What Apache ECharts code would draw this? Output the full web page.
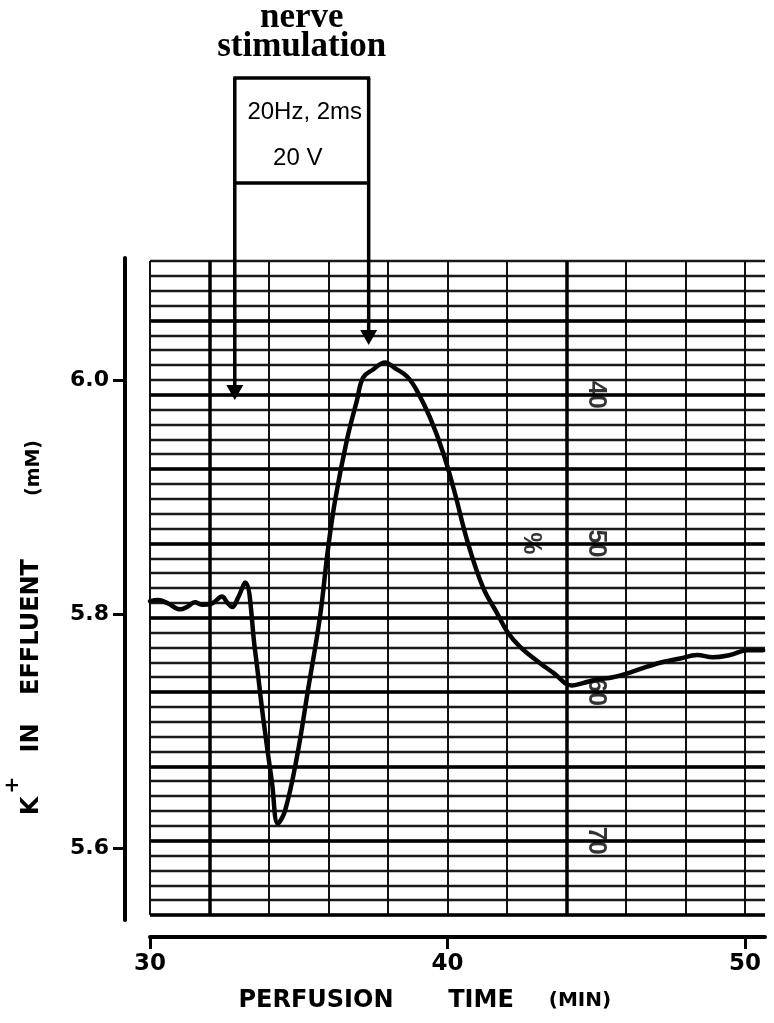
<!DOCTYPE html>
<html>
<head>
<meta charset="utf-8">
<script src="https://cdn.jsdelivr.net/npm/echarts@6/dist/echarts.min.js"></script>
<style>html,body{margin:0;padding:0;background:#fff}#c{width:774px;height:1023px}</style>
</head>
<body>
<div id="c"></div>
<script>
// ---- data ----
const timeMin = [30.00,30.27,30.61,31.01,31.24,31.51,31.75,32.08,32.42,32.59,32.76,32.96,33.20,33.53,33.80,34.10,34.30,34.54,34.94,35.31,35.71,35.98,36.22,36.62,36.96,37.16,37.50,37.90,38.24,38.64,38.97,39.41,39.85,40.25,40.66,41.19,41.66,42.03,42.44,43.11,43.55,44.18,44.55,45.03,45.56,46.13,46.71,47.24,47.82,48.39,48.92,49.50,50.07,50.61];
const kEffluent = [5.811,5.812,5.809,5.804,5.806,5.810,5.808,5.809,5.815,5.810,5.806,5.814,5.827,5.769,5.712,5.656,5.621,5.632,5.678,5.735,5.797,5.855,5.897,5.949,5.983,6.002,6.009,6.015,6.010,6.003,5.991,5.968,5.938,5.903,5.863,5.823,5.801,5.784,5.772,5.758,5.750,5.739,5.741,5.744,5.746,5.750,5.755,5.759,5.762,5.765,5.763,5.765,5.769,5.769];
const xTickValues = [30, 40, 50];
const yTickValues = [5.6, 5.8, 6.0];
const paperScaleLabels = ['40', '50', '60', '70'];
const paperScaleValues = [40, 50, 60, 70];
const paperScaleTime = 45;
const percentSign = ['%'];
const percentTime = 42.8;
const percentValue = 50;
const paperBoldRows = [35, 40, 45, 50, 55, 60, 65, 70, 75];
const paperBoldCols = [32, 44];
const stimTimes = [32.85, 37.35];
const stimArrowTips = [5.983, 6.030];
const stimTitle = ['nerve', 'stimulation'];
const stimParams = ['20Hz, 2ms', '20 V'];
const xTitleParts = ['PERFUSION', 'TIME', '(MIN)'];
const yTitleParts = ['K', '+', 'IN', 'EFFLUENT', '(mM)'];

// ---- axis ranges ----
const T_MIN = 30, T_MAX = 50.672;
const K_MIN = 5.5385, K_MAX = 6.1043;
const P_MIN = 31, P_MAX = 75;

const chart = echarts.init(document.getElementById('c'), null, {renderer: 'canvas'});

const option = {
  animation: false,
  backgroundColor: '#fff',
  grid: [
    {left: 150, right: 9, top: 261, bottom: 108, outerBoundsMode: 'none', containLabel: false},
    {left: 150, right: 9, top: 258, bottom: 103, outerBoundsMode: 'none', containLabel: false}
  ],
  xAxis: [
    {
      gridIndex: 0, type: 'value', min: T_MIN, max: T_MAX, interval: 2,
      axisLine: {show: false}, axisTick: {show: false}, axisLabel: {show: false},
      splitLine: {show: true, showMinLine: true, showMaxLine: false, lineStyle: {color: '#111', width: 2}}
    },
    {
      gridIndex: 1, type: 'value', min: T_MIN, max: T_MAX, position: 'bottom', offset: 17,
      axisLine: {show: true, onZero: false, lineStyle: {color: '#000', width: 4}},
      axisTick: {show: true, inside: false, length: 12, customValues: xTickValues, lineStyle: {color: '#000', width: 3}},
      axisLabel: {show: true, customValues: xTickValues, margin: 16, fontFamily: 'DejaVu Sans', fontWeight: 'bold', fontSize: 23, color: '#000'},
      splitLine: {show: false}
    }
  ],
  yAxis: [
    {
      gridIndex: 0, type: 'value', inverse: true, min: P_MIN, max: P_MAX, interval: 1,
      axisLine: {show: false}, axisTick: {show: false}, axisLabel: {show: false},
      splitLine: {show: true, showMinLine: true, showMaxLine: true, lineStyle: {color: '#1a1a1a', width: 2.3}}
    },
    {
      gridIndex: 1, type: 'value', min: K_MIN, max: K_MAX, position: 'left', offset: 25,
      axisLine: {show: true, onZero: false, lineStyle: {color: '#000', width: 4}},
      axisTick: {show: true, inside: false, length: 12, customValues: yTickValues, lineStyle: {color: '#000', width: 3}},
      axisLabel: {show: true, customValues: yTickValues, margin: 16, formatter: v => Number(v).toFixed(1),
        fontFamily: 'DejaVu Sans', fontWeight: 'bold', fontSize: 22, color: '#000'},
      splitLine: {show: false}
    }
  ],
  series: [
    {
      type: 'scatter', xAxisIndex: 0, yAxisIndex: 0, symbolSize: 0, silent: true, z: 2,
      data: paperScaleValues.map((p, i) => ({value: [paperScaleTime, p], name: paperScaleLabels[i]}))
        .concat(percentSign.map(s => ({value: [percentTime, percentValue], name: s}))),
      label: {show: true, position: 'inside', formatter: p => p.name, rotate: -90,
        fontFamily: 'Liberation Sans', fontWeight: 'bold', fontSize: 25, color: '#000'},
      markLine: {
        silent: true, symbol: 'none', label: {show: false},
        lineStyle: {color: '#000', width: 3.5, type: 'solid'},
        data: paperBoldRows.map(p => ({yAxis: p})).concat(paperBoldCols.map(t => ({xAxis: t})))
      }
    },
    {
      type: 'line', xAxisIndex: 1, yAxisIndex: 1, z: 5, silent: true,
      data: timeMin.map((t, i) => [t, kEffluent[i]]),
      showSymbol: false, smooth: 0.4,
      lineStyle: {color: '#050505', width: 4.5, cap: 'round', join: 'round'}
    }
  ]
};
chart.setOption(option);

// ---- annotations ----
const px = (t, v) => chart.convertToPixel({xAxisIndex: 1, yAxisIndex: 1}, [t, v]);
const L = px(stimTimes[0], stimArrowTips[0]);
const R = px(stimTimes[1], stimArrowTips[1]);
const boxTop = 78, boxDiv = 183, head = 15, hw = 8.5;
const boxMid = (L[0] + R[0]) / 2;
const lineStyle = {stroke: '#000', lineWidth: 3.5};
const g = [];
g.push({type: 'line', shape: {x1: L[0] - 1.5, y1: boxTop, x2: R[0] + 1.5, y2: boxTop}, style: lineStyle});
g.push({type: 'line', shape: {x1: L[0], y1: boxDiv, x2: R[0], y2: boxDiv}, style: lineStyle});
g.push({type: 'line', shape: {x1: L[0], y1: boxTop, x2: L[0], y2: L[1] - head + 2}, style: lineStyle});
g.push({type: 'line', shape: {x1: R[0], y1: boxTop, x2: R[0], y2: R[1] - head + 2}, style: lineStyle});
[L, R].forEach(P => g.push({type: 'polygon', shape: {points: [[P[0] - hw, P[1] - head], [P[0] + hw, P[1] - head], [P[0], P[1]]]}, style: {fill: '#000'}}));
g.push({type: 'text', x: boxMid + 3, y: 112, style: {text: stimParams[0], align: 'center', verticalAlign: 'middle', font: '24px "Liberation Sans", Arial, sans-serif', fill: '#000'}});
g.push({type: 'text', x: boxMid - 4, y: 158, style: {text: stimParams[1], align: 'center', verticalAlign: 'middle', font: '24px "Liberation Sans", Arial, sans-serif', fill: '#000'}});
g.push({type: 'text', x: boxMid, y: 18, style: {text: stimTitle[0], align: 'center', verticalAlign: 'middle', font: 'bold 35px "Liberation Serif", "Times New Roman", serif', fill: '#000'}});
g.push({type: 'text', x: boxMid, y: 47, style: {text: stimTitle[1], align: 'center', verticalAlign: 'middle', font: 'bold 35px "Liberation Serif", "Times New Roman", serif', fill: '#000'}});
// x title
const xt = [[316, 24], [481, 24], [580, 20]];
xTitleParts.forEach((s, i) => g.push({type: 'text', x: xt[i][0], y: 1001, style: {text: s, align: 'center', verticalAlign: 'middle', font: 'bold ' + xt[i][1] + 'px "DejaVu Sans", sans-serif', fill: '#000'}}));
// y title (rotated, reading bottom-to-top)
const yt = [[32, 806, 24], [13, 785, 20], [32, 738, 24], [32, 627, 24], [34, 468, 19]];
yTitleParts.forEach((s, i) => g.push({type: 'text', x: yt[i][0], y: yt[i][1], rotation: Math.PI / 2, style: {text: s, align: 'center', verticalAlign: 'middle', font: 'bold ' + yt[i][2] + 'px "DejaVu Sans", sans-serif', fill: '#000'}}));
chart.setOption({graphic: {elements: g}});
</script>
</body>
</html>
